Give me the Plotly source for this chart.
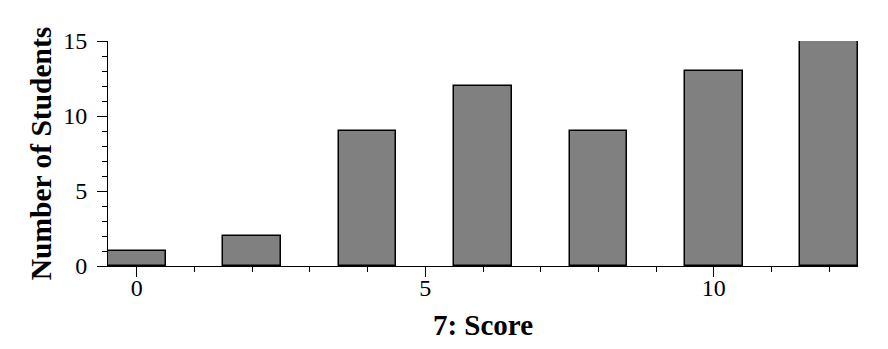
import plotly.graph_objects as go

scores = [0, 2, 4, 6, 8, 10, 12]
students = [1, 2, 9, 12, 9, 13, 15]
x_ticks = [0, 5, 10]
y_ticks = [0, 5, 10, 15]

fig = go.Figure()
fig.add_trace(go.Bar(
    x=scores, y=students, width=1,
    marker=dict(color="#808080", line=dict(color="black", width=1.5)),
))

font = "Liberation Serif"
fig.update_layout(
    width=888, height=349,
    margin=dict(l=108, r=30, t=41, b=83),
    paper_bgcolor="white", plot_bgcolor="white",
    showlegend=False,
    font=dict(family=font, color="black", size=24),
    bargap=0,
)
fig.update_xaxes(
    range=[-0.5, 12.5], tickvals=x_ticks, ticktext=[str(v) for v in x_ticks],
    ticks="outside", ticklen=10, tickwidth=1, tickcolor="black",
    showline=True, linecolor="black", linewidth=1,
    showgrid=False, zeroline=False,
    minor=dict(dtick=1, tick0=0, ticks="outside", ticklen=5, tickwidth=1, tickcolor="black", showgrid=False),
    tickfont=dict(family=font, size=24), ticklabelstandoff=-10,
    title=dict(text="<b>7: Score</b>", font=dict(family=font, size=29), standoff=14),
)
fig.update_yaxes(
    range=[0, 15], tickvals=y_ticks, ticktext=[str(v) for v in y_ticks],
    ticks="outside", ticklen=10, tickwidth=1, tickcolor="black",
    showline=True, linecolor="black", linewidth=1,
    showgrid=False, zeroline=False,
    minor=dict(dtick=1, tick0=0, ticks="outside", ticklen=5, tickwidth=1, tickcolor="black", showgrid=False),
    tickfont=dict(family=font, size=24), ticklabelstandoff=5,
    title=dict(text="<b>Number of Students</b>", font=dict(family=font, size=29.5), standoff=2),
)

fig.write_html("out.html")
